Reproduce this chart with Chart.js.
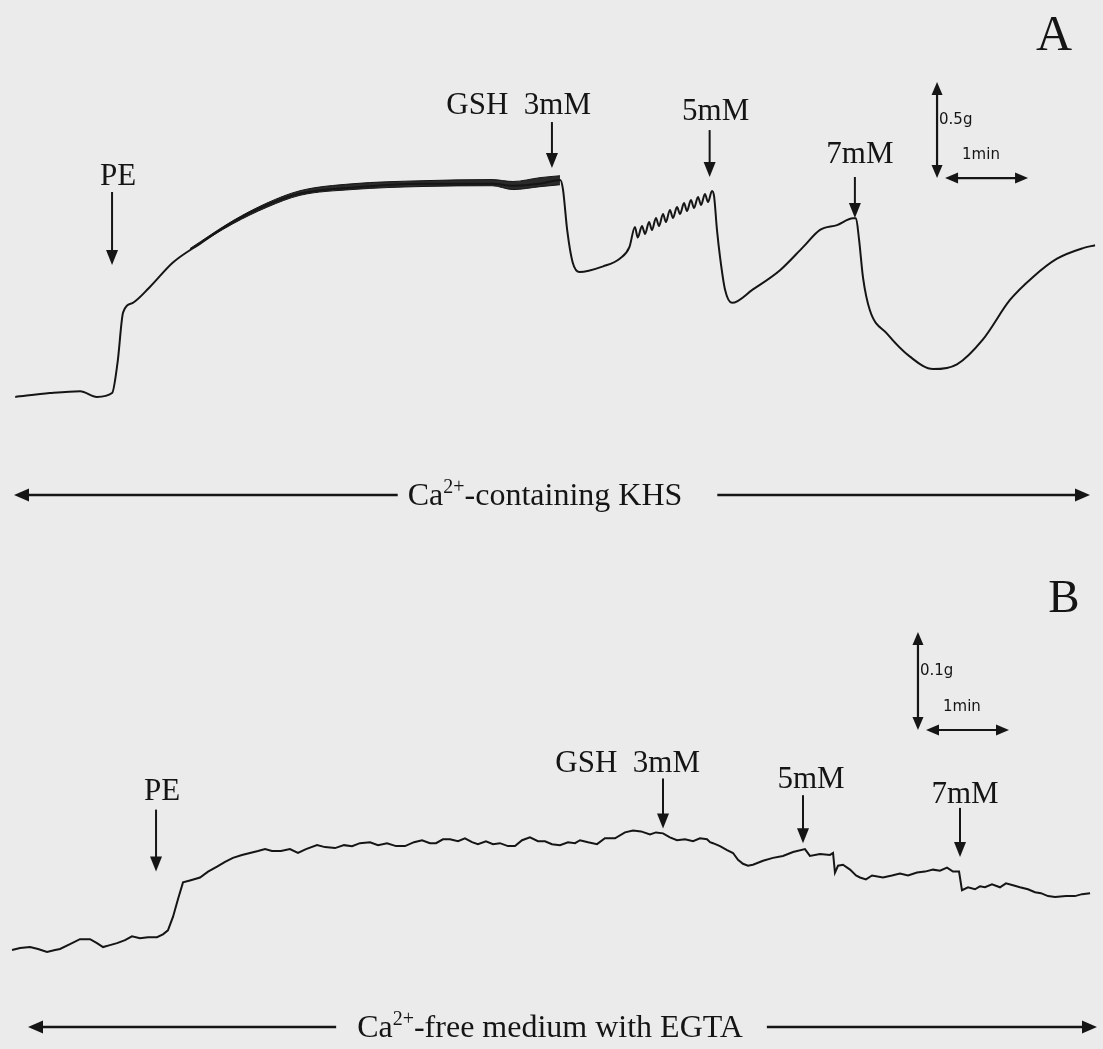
<!DOCTYPE html>
<html><head><meta charset="utf-8">
<script src="https://cdn.jsdelivr.net/npm/chart.js@4/dist/chart.umd.min.js"></script>
<style>html,body{margin:0;padding:0;background:#ebebeb;}canvas{display:block;}</style>
</head><body><canvas id="c" width="1103" height="1049"></canvas>
<script>
// ---- Panel A: Ca2+-containing KHS (time in s, tension in g above baseline) ----
const timeA = [11,36,58,70,81,85,89,96,108,125,145,168,193,217,254,305,356,371,390,405,407,410,414,419,436,448,455,459,461,
  464.1,466.3,469.2,471.3,474.2,476.4,479.3,481.4,484.3,486.5,489.4,491.6,494.5,496.6,499.5,501.7,504.6,506.8,509.6,511.8,514.7,516.2,
  518.3,520.5,524.1,529.2,544.3,563.9,580.5,592.8,605.1,616.6,618.8,
  621,623.9,628.9,641.2,657.8,674.5,691.8,710.6,730.1,746.8,764.1,782.9,791.6];
const tensionA = [-0.01,0.01,0.02,-0.01,0.01,0.17,0.43,0.48,0.56,0.69,0.79,0.90,0.99,1.05,1.08,1.10,1.10,1.09,1.10,1.12,1.07,0.86,0.69,0.64,0.67,0.71,0.77,0.875,0.82,
  0.880,0.839,0.901,0.859,0.922,0.880,0.943,0.901,0.964,0.922,0.979,0.943,1.000,0.958,1.016,0.974,1.031,0.990,1.047,1.005,1.063,1.036,
  0.86,0.72,0.55,0.48,0.55,0.65,0.77,0.86,0.885,0.92,0.92,
  0.81,0.61,0.44,0.32,0.20,0.135,0.16,0.29,0.495,0.615,0.71,0.765,0.78];
// envelope of the fast oscillations on the PE plateau
const oscTimeA  = [137.4,168.4,193.0,216.9,254.5,305.1,355.7,370.8,390.4,404.8];
const oscUpperA = [0.763,0.908,1.000,1.064,1.100,1.116,1.122,1.112,1.132,1.142];
const oscLowerA = [0.758,0.892,0.978,1.040,1.070,1.086,1.090,1.070,1.085,1.095];

// ---- Panel B: Ca2+-free medium with EGTA ----
const timeB = [8.7,14.5,21.7,27.5,34.0,39.8,43.4,50.6,57.8,65.1,70.1,74.5,79.5,84.6,90.4,95.4,101.2,107.0,113.5,117.8,
  121.4,125.1,128.7,132.3,137.3,144.6,150.4,156.9,162.7,168.4,174.9,180.7,186.5,191.6,196.6,203.1,209.6,215.4,221.2,229.2,
  234.9,242.2,248.7,254.5,260.2,267.5,273.3,279.8,286.3,292.8,299.3,305.1,310.8,315.2,320.2,325.3,331.1,336.1,341.2,345.5,
  351.3,356.4,361.4,367.2,372.3,377.4,383.1,388.9,394.0,399.0,404.8,410.6,415.7,419.3,425.1,431.6,437.3,444.6,451.8,457.6,
  463.4,469.9,474.2,479.3,484.3,489.4,495.2,501.0,506.0,511.1,513.3,515.4,520.5,525.6,529.9,533.5,537.1,540.7,544.3,551.6,
  558.8,566.0,573.3,581.9,585.5,592.8,600.0,602.2,603.6,605.8,609.4,614.5,618.8,621.7,626.0,630.4,638.3,644.8,650.6,656.4,
  662.9,668.7,674.5,679.5,684.6,688.9,693.3,695.4,699.8,704.8,708.4,712.0,717.1,722.9,727.2,732.3,737.3,743.1,748.2,752.5,
  757.6,762.7,770.6,777.1,782.2,788.0];
const tensionB = [0.000,0.002,0.003,0.001,-0.002,0.000,0.001,0.006,0.011,0.011,0.007,0.003,0.005,0.007,0.010,0.014,0.012,0.013,0.013,0.016,
  0.020,0.034,0.052,0.069,0.071,0.074,0.080,0.085,0.090,0.094,0.097,0.099,0.101,0.103,0.101,0.101,0.103,0.099,0.103,0.107,
  0.105,0.104,0.107,0.106,0.109,0.110,0.107,0.109,0.106,0.106,0.110,0.112,0.109,0.109,0.113,0.113,0.111,0.114,0.110,0.108,
  0.111,0.108,0.109,0.106,0.106,0.112,0.115,0.111,0.111,0.108,0.107,0.110,0.109,0.112,0.110,0.108,0.114,0.114,0.120,0.122,
  0.121,0.118,0.120,0.119,0.115,0.112,0.113,0.111,0.114,0.113,0.110,0.109,0.106,0.102,0.099,0.092,0.088,0.086,0.087,0.091,
  0.094,0.096,0.100,0.103,0.096,0.098,0.097,0.099,0.079,0.086,0.087,0.082,0.076,0.074,0.072,0.076,0.074,0.076,0.078,0.076,
  0.079,0.080,0.082,0.081,0.084,0.080,0.080,0.061,0.064,0.062,0.065,0.064,0.067,0.064,0.068,0.066,0.064,0.062,0.059,0.058,
  0.055,0.054,0.055,0.055,0.057,0.058];

// ---- drug additions (labels, time, tension at arrow tip) ----
const eventLabelsA = ['PE','GSH  3mM','5mM','7mM'];
const eventTimesA  = [81,399,513,618];
const eventTipsA   = [0.677,1.182,1.135,0.922];
const eventLabelsB = ['PE','GSH  3mM','5mM','7mM'];
const eventTimesB  = [112.8,479.3,580.5,694];
const eventTipsB   = [0.080,0.124,0.109,0.095];

// ---- calibration bars ----
const calA = {t:677.4, g:1.130, dg:0.5, dt:60, gLabel:'0.5g', tLabel:'1min'};
const calB = {t:663.6, g:0.2245, dg:0.1, dt:60, gLabel:'0.1g', tLabel:'1min'};

// styles (pixel offsets for annotations)
const evStyleA = [{len:73,gap:7,dx:6,align:'center'},{len:46,gap:8,dx:39,align:'right'},{len:47,gap:10,dx:6,align:'center'},{len:41,gap:14,dx:5,align:'center'}];
const evStyleB = [{len:62,gap:10,dx:6,align:'center'},{len:50,gap:6,dx:37,align:'right'},{len:48,gap:7,dx:8,align:'center'},{len:49,gap:5,dx:5,align:'center'}];

const INK = '#151515';
const SERIF = '"Liberation Serif","Times New Roman",serif';
const SANS = '"DejaVu Sans",Verdana,sans-serif';

function pts(xs, ys){ return xs.map((x,i)=>({x:x,y:ys[i]})); }

function downArrow(ctx,x,tip,len){
  const hl=15, hw=6;
  ctx.beginPath(); ctx.moveTo(x,tip-len); ctx.lineTo(x,tip-hl+2); ctx.stroke();
  ctx.beginPath(); ctx.moveTo(x,tip); ctx.lineTo(x-hw,tip-hl); ctx.lineTo(x+hw,tip-hl); ctx.closePath(); ctx.fill();
}
function head(ctx,x,y,dir,hl,hw){
  ctx.beginPath();
  if(dir==='l'){ctx.moveTo(x,y);ctx.lineTo(x+hl,y-hw);ctx.lineTo(x+hl,y+hw);}
  if(dir==='r'){ctx.moveTo(x,y);ctx.lineTo(x-hl,y-hw);ctx.lineTo(x-hl,y+hw);}
  if(dir==='u'){ctx.moveTo(x,y);ctx.lineTo(x-hw,y+hl);ctx.lineTo(x+hw,y+hl);}
  if(dir==='d'){ctx.moveTo(x,y);ctx.lineTo(x-hw,y-hl);ctx.lineTo(x+hw,y-hl);}
  ctx.closePath(); ctx.fill();
}

function drawEvents(ctx,xs,ys,labels,times,tips,styles){
  ctx.font = '31px '+SERIF; ctx.textBaseline='alphabetic';
  labels.forEach((lab,i)=>{
    const x = xs.getPixelForValue(times[i]);
    const tip = ys.getPixelForValue(tips[i]);
    const s = styles[i];
    ctx.lineWidth=2; downArrow(ctx,x,tip,s.len);
    ctx.textAlign = s.align;
    ctx.fillText(lab, x+s.dx, tip-s.len-s.gap);
  });
}

function drawCal(ctx,xs,ys,c){
  const x = xs.getPixelForValue(c.t);
  const y0 = ys.getPixelForValue(c.g), y1 = ys.getPixelForValue(c.g+c.dg);
  ctx.lineWidth=2.2;
  ctx.beginPath(); ctx.moveTo(x,y1+10); ctx.lineTo(x,y0-10); ctx.stroke();
  head(ctx,x,y1,'u',13,5.5); head(ctx,x,y0,'d',13,5.5);
  const hx0 = xs.getPixelForValue(c.t+5.8), hx1 = xs.getPixelForValue(c.t+5.8+c.dt);
  ctx.beginPath(); ctx.moveTo(hx0+10,y0); ctx.lineTo(hx1-10,y0); ctx.stroke();
  head(ctx,hx0,y0,'l',13,5.5); head(ctx,hx1,y0,'r',13,5.5);
  ctx.font='15px '+SANS; ctx.textAlign='left'; ctx.textBaseline='middle';
  ctx.fillText(c.gLabel, x+2, (y0+y1)/2 - 10);
  ctx.fillText(c.tLabel, hx0+17, y0-23);
}

function drawMedium(ctx,y,x0,x1,parts,gapL,gapR,cx){
  const fs=32;
  ctx.font=fs+'px '+SERIF; const w1=ctx.measureText(parts[0]).width; const w3=ctx.measureText(parts[2]).width;
  ctx.font=Math.round(fs*0.62)+'px '+SERIF; const w2=ctx.measureText(parts[1]).width;
  const total=w1+w2+w3; let sx=cx-total/2;
  ctx.textAlign='left'; ctx.textBaseline='alphabetic';
  const base=y+10;
  ctx.font=fs+'px '+SERIF; ctx.fillText(parts[0],sx,base); sx+=w1;
  ctx.font=Math.round(fs*0.62)+'px '+SERIF; ctx.fillText(parts[1],sx,base-12); sx+=w2;
  ctx.font=fs+'px '+SERIF; ctx.fillText(parts[2],sx,base);
  ctx.lineWidth=2.6;
  const l1=cx-total/2-gapL, r0=cx+total/2+gapR;
  ctx.beginPath(); ctx.moveTo(x0+12,y); ctx.lineTo(l1,y); ctx.stroke();
  ctx.beginPath(); ctx.moveTo(r0,y); ctx.lineTo(x1-12,y); ctx.stroke();
  head(ctx,x0,y,'l',15,6.5); head(ctx,x1,y,'r',15,6.5);
}

const annot = {
  id:'annot',
  beforeDraw(chart){ const c=chart.ctx; c.save(); c.fillStyle='#ebebeb'; c.fillRect(0,0,chart.width,chart.height); c.restore(); },
  afterDatasetsDraw(chart){
    const ctx=chart.ctx, xs=chart.scales.x, ya=chart.scales.yA, yb=chart.scales.yB;
    ctx.save(); ctx.fillStyle=INK; ctx.strokeStyle=INK;
    drawEvents(ctx,xs,ya,eventLabelsA,eventTimesA,eventTipsA,evStyleA);
    drawEvents(ctx,xs,yb,eventLabelsB,eventTimesB,eventTipsB,evStyleB);
    drawCal(ctx,xs,ya,calA); drawCal(ctx,xs,yb,calB);
    ctx.font='50px '+SERIF; ctx.textAlign='center'; ctx.textBaseline='alphabetic';
    ctx.fillText('A',1054,50);
    ctx.font='47px '+SERIF; ctx.fillText('B',1064,612);
    drawMedium(ctx,495,14,1090,['Ca','2+','-containing KHS'],10,35,545);
    drawMedium(ctx,1027,28,1097,['Ca','2+','-free medium with EGTA'],21,24,550);
    ctx.restore();
  }
};

new Chart(document.getElementById('c'),{
  type:'line',
  data:{datasets:[
    {label:'A',data:pts(timeA,tensionA),yAxisID:'yA',borderColor:INK,borderWidth:2,pointRadius:0,cubicInterpolationMode:'monotone',fill:false},
    {label:'A osc upper',data:pts(oscTimeA,oscUpperA),yAxisID:'yA',borderColor:INK,borderWidth:1,pointRadius:0,cubicInterpolationMode:'monotone',fill:false},
    {label:'A osc lower',data:pts(oscTimeA,oscLowerA),yAxisID:'yA',borderColor:INK,borderWidth:1,pointRadius:0,cubicInterpolationMode:'monotone',fill:'-1',backgroundColor:'rgba(21,21,21,0.9)'},
    {label:'B',data:pts(timeB,tensionB),yAxisID:'yB',borderColor:INK,borderWidth:2,pointRadius:0,tension:0,fill:false}
  ]},
  options:{
    responsive:false, animation:false, devicePixelRatio:1,
    layout:{padding:0},
    plugins:{legend:{display:false},tooltip:{enabled:false}},
    scales:{
      x:{type:'linear',min:0,max:797.36,display:false},
      yA:{type:'linear',min:-3.4063,max:2.0573,display:false},
      yB:{type:'linear',min:-0.10102,max:0.96939,display:false}
    }
  },
  plugins:[annot]
});
</script></body></html>
